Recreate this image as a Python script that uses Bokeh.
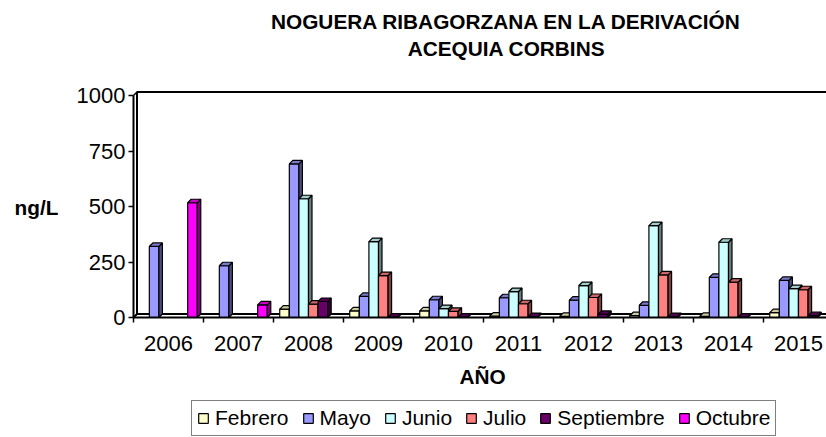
from bokeh.plotting import figure
from bokeh.models import (Range1d, FixedTicker, Label, Legend, LegendItem,
                          ColumnDataSource)
from bokeh.embed import file_html
from bokeh.resources import INLINE

# ---------------- data ----------------
years = ["2006", "2007", "2008", "2009", "2010", "2011", "2012", "2013", "2014", "2015"]
series_names = ["Febrero", "Mayo", "Junio", "Julio", "Septiembre", "Octubre"]
febrero = [None, None, 38, 30, 30, 6, 5, 8, 5, 22]
mayo = [320, 233, 692, 95, 80, 89, 78, 55, 181, 167]
junio = [None, None, 535, 342, 40, 117, 144, 414, 339, 130]
julio = [None, None, 60, 189, 28, 62, 90, 192, 159, 125]
septiembre = [None, None, 72, 2, 2, 4, 14, 4, 2, 8]
octubre = [517, 57, None, None, None, None, None, None, None, None]
y_ticks = [0, 250, 500, 750, 1000]

series_values = [febrero, mayo, junio, julio, septiembre, octubre]
colors = ["#FFFFCC", "#9999FF", "#CCFFFF", "#FF8080", "#660066", "#FF00FF"]

FONT = "Liberation Sans"

# ---------------- geometry (canvas == frame) ----------------
W, H = 826, 437
AX_X, AX_Y = 133, 317        # pixel position of the value/category axes
cat_px = 70.0
ux = 1.0 / cat_px            # x data units per px
uy = 1000.0 / 222.0          # y data units per px
x_start, x_end = -AX_X * ux, (W - AX_X) * ux
y_start, y_end = -(H - AX_Y) * uy, AX_Y * uy
depth = 3.5
dx, dy = depth * ux, depth * uy
bar_w = 0.137


def shade(hexc, f):
    r, g, b = int(hexc[1:3], 16), int(hexc[3:5], 16), int(hexc[5:7], 16)
    return "#%02x%02x%02x" % (int(r * f), int(g * f), int(b * f))


p = figure(width=W, height=H, output_backend="svg", toolbar_location=None,
           x_range=Range1d(x_start, x_end), y_range=Range1d(y_start, y_end),
           min_border=0)
p.outline_line_color = None
p.xgrid.visible = False
p.ygrid.visible = False
p.background_fill_color = "white"
p.border_fill_color = "white"

# back wall & floor outline
p.line([0, dx], [0, dy], line_color="black", line_width=2)
p.line([dx, x_end], [dy, dy], line_color="black", line_width=2)
p.line([dx, dx, x_end], [dy, 1000 + dy, 1000 + dy], line_color="black", line_width=2)
p.line([0, dx], [1000, 1000 + dy], line_color="black", line_width=1.5)

legend_items = []
for j, (name, vals, col) in enumerate(zip(series_names, series_values, colors)):
    xs, tops = [], []
    side_xs, side_ys, top_xs, top_ys = [], [], [], []
    for i, v in enumerate(vals):
        if v is None:
            continue
        c = i + 0.5 + (j - 2.5) * bar_w
        l, r = c - bar_w / 2, c + bar_w / 2
        xs.append(c)
        tops.append(v)
        side_xs.append([r, r + dx, r + dx, r])
        side_ys.append([0, dy, v + dy, v])
        top_xs.append([l, l + dx, r + dx, r])
        top_ys.append([v, v + dy, v + dy, v])
    src = ColumnDataSource(dict(x=xs, top=tops))
    rf = p.vbar(x="x", top="top", bottom=0, width=bar_w, source=src,
                fill_color=col, line_color="black", line_width=1.2)
    p.patches(side_xs, side_ys, fill_color=shade(col, 0.5), line_color="black", line_width=1.2)
    p.patches(top_xs, top_ys, fill_color=shade(col, 0.8), line_color="black", line_width=1.2)
    legend_items.append(LegendItem(label=name, renderers=[rf]))

# y axis (drawn at x = 0 inside the frame)
ya = p.yaxis[0]
ya.fixed_location = 0
ya.ticker = FixedTicker(ticks=y_ticks)
ya.bounds = (0, 1000)
ya.axis_line_width = 2
ya.major_tick_out = 5
ya.major_tick_in = 0
ya.minor_tick_out = 0
ya.minor_tick_in = 0
ya.major_tick_line_width = 1.5
ya.major_label_standoff = 3
ya.major_label_text_font = FONT
ya.major_label_text_font_size = "22px"
ya.major_label_text_color = "black"

# x axis (drawn at y = 0 inside the frame)
xa = p.xaxis[0]
xa.fixed_location = 0
xa.bounds = (0, x_end)
centers = [i + 0.5 for i in range(len(years))]
xa.ticker = FixedTicker(ticks=centers, minor_ticks=list(range(len(years) + 1)))
xa.major_label_overrides = {c: y for c, y in zip(centers, years)}
xa.major_tick_line_color = None
xa.major_tick_out = 0
xa.major_tick_in = 0
xa.minor_tick_out = 5
xa.minor_tick_in = 0
xa.minor_tick_line_width = 1.5
xa.minor_tick_line_color = "black"
xa.axis_line_width = 2
xa.major_label_standoff = 13
xa.major_label_text_font = FONT
xa.major_label_text_font_size = "22px"
xa.major_label_text_color = "black"


def text_label(px, py, txt, size="20.8px"):
    return Label(x=(px - AX_X) * ux, y=(AX_Y - py) * uy, text=txt,
                 text_align="center", text_baseline="middle", text_font=FONT,
                 text_font_size=size, text_font_style="bold", text_color="black")


p.add_layout(text_label(506, 21, "NOGUERA RIBAGORZANA EN LA DERIVACIÓN"))
p.add_layout(text_label(506, 48, "ACEQUIA CORBINS"))
p.add_layout(text_label(36, 207, "ng/L"))
p.add_layout(text_label(482, 376, "AÑO"))

legend = Legend(items=legend_items, orientation="horizontal", location=(191, 1),
                glyph_width=12, glyph_height=12, label_standoff=6, spacing=13,
                padding=5, margin=0, border_line_color="black", border_line_width=1.5,
                background_fill_color="white", background_fill_alpha=1.0,
                label_text_font=FONT, label_text_font_size="21px", label_text_color="black")
p.add_layout(legend, "center")

open("out.html", "w").write(file_html(p, INLINE))
